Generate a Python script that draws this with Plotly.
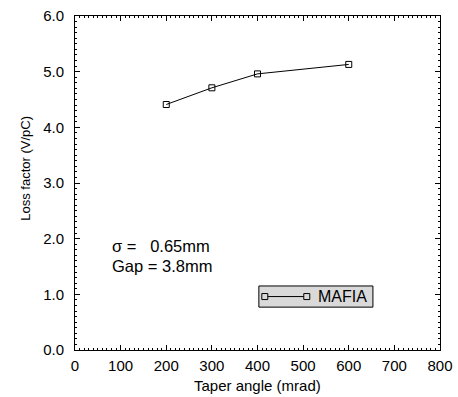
import plotly.graph_objects as go

taper_angle = [200, 300, 400, 600]
loss_factor = [4.41, 4.71, 4.96, 5.13]
series_name = "MAFIA"
x_ticks = [0, 100, 200, 300, 400, 500, 600, 700, 800]
y_ticks = [0.0, 1.0, 2.0, 3.0, 4.0, 5.0, 6.0]

FONT = "Liberation Sans, Arial, sans-serif"

fig = go.Figure()
fig.add_trace(go.Scatter(
    x=taper_angle, y=loss_factor, name=series_name, mode="lines+markers",
    line=dict(color="black", width=1),
    marker=dict(symbol="square-open", size=6, color="black", line=dict(width=1)),
    showlegend=False,
))

axis_common = dict(
    showline=True, linecolor="black", linewidth=1, mirror="allticks",
    ticks="inside", ticklen=5, tickcolor="black", tickwidth=1,
    showgrid=False, zeroline=False, automargin=False,
    tickfont=dict(family=FONT, size=15, color="black"),
)
fig.update_xaxes(
    range=[0, 800], tickvals=x_ticks, ticktext=[str(v) for v in x_ticks],
    minor=dict(ticks="inside", ticklen=2, dtick=10, tickcolor="black", tickwidth=1),
    ticklabelstandoff=2,
    **axis_common,
)
fig.update_yaxes(
    range=[0, 6], tickvals=y_ticks, ticktext=[f"{v:.1f}" for v in y_ticks],
    minor=dict(ticks="inside", ticklen=2, dtick=0.1, tickcolor="black", tickwidth=1),
    ticklabelstandoff=7,
    **axis_common,
)

# axis titles
fig.add_annotation(x=0.5, y=-0.105, xref="paper", yref="paper", text="Taper angle (mrad)",
                   showarrow=False, xanchor="center", yanchor="middle",
                   font=dict(family=FONT, size=15, color="black"))
fig.add_annotation(x=-0.134, y=0.543, xref="paper", yref="paper", text="Loss factor (V/pC)",
                   showarrow=False, xanchor="center", yanchor="middle", textangle=-90,
                   font=dict(family=FONT, size=13, color="black"))

fig.add_annotation(x=77, y=1.87, xref="x", yref="y", text="σ =   0.65mm",
                   showarrow=False, xanchor="left", yanchor="middle",
                   font=dict(family=FONT, size=16.5, color="black"))
fig.add_annotation(x=77, y=1.51, xref="x", yref="y", text="Gap = 3.8mm",
                   showarrow=False, xanchor="left", yanchor="middle",
                   font=dict(family=FONT, size=16.5, color="black"))

# custom legend box (line with end markers, like the original)
leg_y = 0.96
fig.add_shape(type="rect", x0=403, x1=653, y0=0.77, y1=1.15, xref="x", yref="y",
              fillcolor="#d9d9d9", line=dict(color="black", width=1), layer="above")
fig.add_shape(type="line", x0=416, x1=508, y0=leg_y, y1=leg_y, xref="x", yref="y",
              line=dict(color="black", width=1), layer="above")
for xm in (416, 508):
    fig.add_shape(type="rect", xref="x", yref="y", xsizemode="pixel", ysizemode="pixel",
                  xanchor=xm, yanchor=leg_y, x0=-3, x1=3, y0=-3, y1=3,
                  fillcolor="#d9d9d9", line=dict(color="black", width=1), layer="above")
fig.add_annotation(x=528, y=leg_y, xref="x", yref="y", text=series_name,
                   showarrow=False, xanchor="left", yanchor="middle",
                   font=dict(family=FONT, size=16, color="black"))

fig.update_layout(
    width=458, height=397,
    margin=dict(l=75, r=18, t=16, b=47, autoexpand=False),
    plot_bgcolor="white", paper_bgcolor="white",
    showlegend=False,
)

fig.write_html("out.html")
